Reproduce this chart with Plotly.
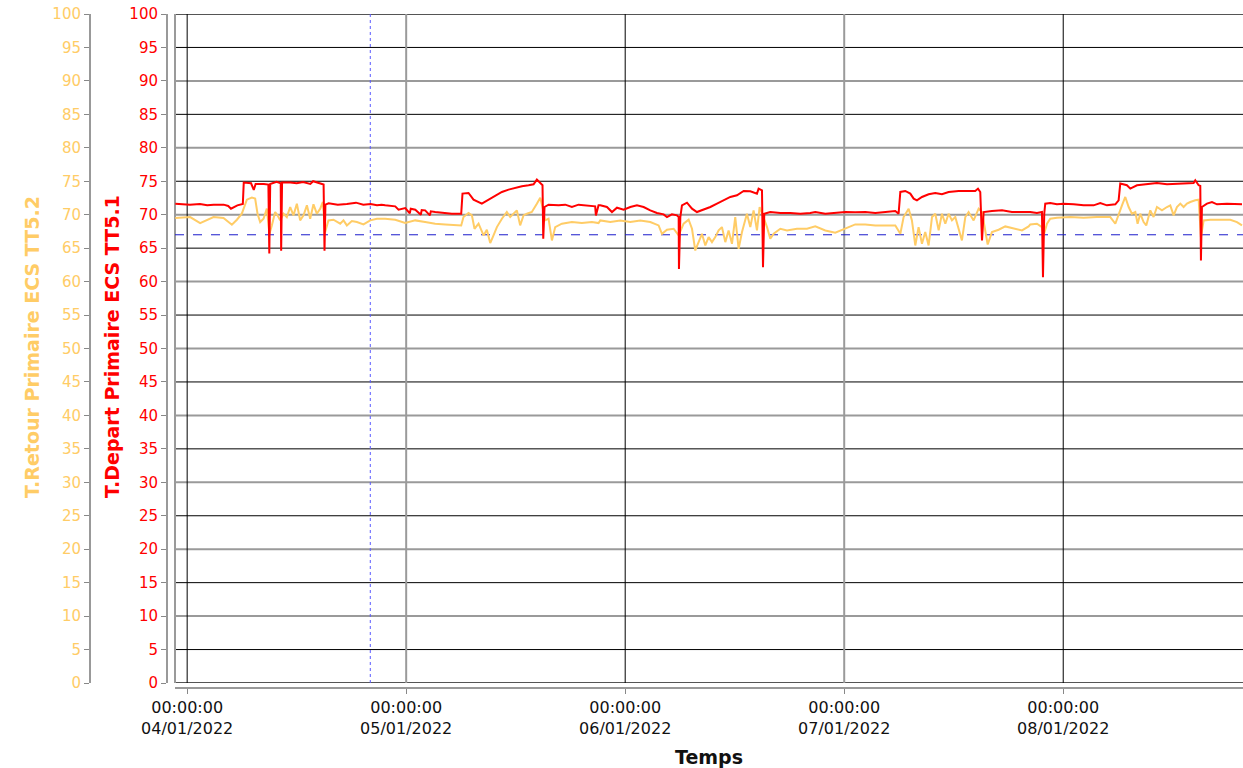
import plotly.graph_objects as go
import pandas as pd

# ---------------- data ----------------
START = "2022-01-04 00:00:00"          # hours below are offsets from this instant
X_RANGE = ["2022-01-03 22:40:00", "2022-01-08 19:42:00"]
X_TICKS = ["2022-01-04", "2022-01-05", "2022-01-06", "2022-01-07", "2022-01-08"]
X_TICKTEXT = ["00:00:00<br>04/01/2022", "00:00:00<br>05/01/2022", "00:00:00<br>06/01/2022",
              "00:00:00<br>07/01/2022", "00:00:00<br>08/01/2022"]
Y_TICKS = list(range(0, 101, 5))
THRESHOLD = 67
MARKER_TIME = "2022-01-04 20:04:00"
X_TITLE = "Temps"
RED_TITLE = "T.Depart Primaire ECS TT5.1"
ORANGE_TITLE = "T.Retour Primaire ECS TT5.2"

depart_hours = [
    -1.3, 0.3, 1.4, 2.2, 2.9, 4.0, 4.5, 4.8, 5.5, 6.0, 6.1, 6.2, 7.0, 7.3, 7.5, 8.4, 8.9, 9.0, 9.1, 9.8,
    10.25, 10.3, 10.4, 11.3, 12.0, 12.7, 13.5, 13.8, 14.5, 14.95, 15.05, 15.15, 15.5, 16.5, 17.5, 18.5,
    19.3, 20.1, 20.8, 21.3,
    21.7, 22.8, 23.16, 23.9, 24.4, 24.5, 25.0, 25.6, 25.7, 26.08, 26.6, 26.7, 27.18, 28.28, 29.0, 30.03,
    30.17, 30.83, 31.38, 32.29, 33.02, 33.75, 34.49, 35.22, 35.95, 36.68, 37.41, 37.96, 38.32, 38.69,
    38.94, 39.02, 39.16, 39.6, 40.7, 41.43, 42.16, 42.89, 43.62, 44.71, 44.79, 45.08,
    45.27, 46.0, 46.55, 47.1, 47.83, 48.56, 49.29, 50.02, 50.75, 51.48, 52.21, 52.58, 53.12, 53.67,
    53.86, 53.89, 54.04, 54.22, 54.77, 55.32, 55.86, 56.6, 57.33, 58.06, 58.79, 59.52, 60.25, 60.98,
    61.71, 62.44, 62.62, 62.99, 63.1, 63.24, 63.9, 65.0, 66.09, 67.19, 68.28,
    68.83, 69.93, 71.02, 72.12, 73.21, 74.31, 75.41, 76.5, 77.6, 77.96, 78.15, 78.69, 79.24, 79.61,
    79.97, 80.52, 81.25, 81.98, 82.71, 83.44, 84.54, 85.63, 86.36, 86.66, 86.91, 87.1, 87.28, 88.19,
    89.29, 90.38, 91.48,
    92.39, 93.12, 93.67, 93.78, 93.92, 94.03, 94.58, 95.31, 96.04, 97.14, 98.23, 99.33, 100.06, 100.79,
    101.71, 102.07, 102.25, 102.98, 103.35, 104.08, 104.99, 105.54, 106.27, 107.37, 108.46, 109.56,
    110.29, 110.47, 110.84, 111.02, 111.09, 111.2, 111.75, 112.3, 112.85, 113.94, 115.59,
]
depart_values = [
    71.65, 71.5, 71.6, 71.4, 71.5, 71.5, 71.3, 70.9, 71.4, 71.6, 71.6, 74.8, 74.7, 73.7, 74.6, 74.6, 74.5, 64.2, 74.6, 74.9,
    74.7, 64.6, 74.8, 74.8, 74.7, 74.9, 74.6, 75.0, 74.7, 74.5, 64.6, 71.5, 71.7, 71.5, 71.6, 71.8,
    71.5, 71.6, 71.4, 71.5,
    71.4, 71.25, 70.75, 71.0, 70.2, 70.9, 70.75, 70.0, 70.7, 70.65, 69.9, 70.5, 70.4, 70.25, 70.15, 70.15,
    73.15, 73.25, 72.25, 71.65, 72.25, 72.9, 73.4, 73.75, 74.05, 74.25, 74.4, 74.55, 75.25, 74.75,
    74.4, 66.4, 71.15, 71.5, 71.4, 71.5, 71.15, 71.5, 71.4, 71.25, 69.9, 71.4,
    71.4, 71.15, 70.4, 71.05, 70.75, 71.15, 71.4, 71.15, 70.65, 70.25, 70.05, 69.65, 70.05, 69.9,
    69.65, 61.9, 69.65, 71.4, 71.8, 70.9, 70.4, 70.75, 71.15, 71.65, 72.15, 72.65, 72.9, 73.55,
    73.5, 73.15, 73.9, 73.65, 62.15, 70.15, 70.4, 70.25, 70.25, 70.15, 70.25,
    70.4, 70.15, 70.25, 70.4, 70.35, 70.4, 70.25, 70.35, 70.55, 70.15, 73.4, 73.55, 73.15, 72.4,
    72.15, 72.65, 73.05, 73.25, 73.05, 73.4, 73.55, 73.55, 73.55, 73.9, 73.4, 66.15, 70.4, 70.55,
    70.65, 70.4, 70.4,
    70.4, 70.25, 70.4, 60.65, 70.15, 71.65, 71.75, 71.55, 71.65, 71.55, 71.4, 71.4, 71.75, 71.4,
    71.55, 72.15, 74.65, 74.4, 73.9, 74.4, 74.55, 74.65, 74.75, 74.55, 74.65, 74.65,
    74.75, 75.15, 74.4, 74.3, 63.15, 71.15, 71.65, 71.9, 71.55, 71.65, 71.55,
]

retour_hours = [
    -1.3, 0.33, 1.42, 2.16, 2.89, 3.98, 4.9, 5.45, 5.99, 6.54, 7.09, 7.45, 7.71, 8.0, 8.37, 8.73, 9.02,
    9.28, 9.64, 9.9, 10.19, 10.56, 10.92, 11.29, 11.65, 12.02, 12.38, 12.75, 13.12, 13.48, 13.84, 14.21,
    14.58, 14.87, 15.12, 15.48, 16.03, 16.77, 17.13, 17.5, 18.05, 18.6, 19.32, 20.06, 20.79,
    21.7, 22.8, 23.89, 24.99, 26.08, 27.18, 28.28, 29.37, 30.03, 30.28, 30.83, 31.2, 31.49, 31.93,
    32.48, 32.84, 33.21, 33.57, 33.94, 34.49, 35.03, 35.4, 35.76, 36.13, 36.49, 36.86, 37.23, 37.77,
    38.32, 38.69, 38.94, 39.23, 39.6, 39.97, 40.33, 41.06, 42.16, 43.25, 44.35, 45.08,
    45.27, 46.37, 47.46, 48.56, 49.65, 50.75, 51.66, 52.03, 52.58, 53.31, 53.86, 54.4, 54.95, 55.32,
    55.68, 56.05, 56.41, 56.78, 57.14, 57.51, 57.87, 58.24, 58.6, 58.97, 59.33, 59.7, 60.06, 60.43,
    60.8, 61.34, 61.71, 62.07, 62.44, 62.73, 63.17, 63.54, 63.9, 64.27, 65.0, 65.73, 66.82, 67.92,
    68.83, 69.93, 71.02, 72.12, 73.21, 74.31, 75.41, 76.5, 77.6, 78.15, 78.51, 79.06, 79.42, 79.79,
    80.15, 80.52, 80.88, 81.25, 81.62, 81.98, 82.35, 82.71, 83.08, 83.44, 83.81, 84.17, 84.54, 84.9,
    85.27, 85.63, 86.18, 86.73, 87.1, 87.46, 87.72, 88.19, 88.92, 89.65, 90.75, 91.48, 92.21,
    92.39, 93.12, 93.67, 93.85, 94.22, 94.58, 95.31, 96.77, 98.23, 99.7, 101.16, 101.71, 102.07,
    102.44, 102.8, 103.17, 103.53, 103.9, 104.15, 104.44, 104.81, 105.1, 105.54, 105.9, 106.27,
    106.82, 107.37, 107.73, 108.1, 108.46, 108.83, 109.19, 109.56, 109.92, 110.47, 110.84, 111.09,
    111.39, 112.12, 113.21, 114.31, 115.04, 115.59,
]
retour_values = [
    69.5, 69.65, 68.75, 69.25, 69.65, 69.5, 68.5, 69.25, 70.15, 72.25, 72.55, 72.4, 70.15, 68.9, 69.4, 70.9, 67.15,
    68.4, 70.4, 69.9, 69.15, 70.15, 69.65, 71.15, 69.9, 71.65, 69.15, 69.9, 71.4, 69.4, 71.55, 70.15,
    70.9, 71.9, 67.4, 69.15, 69.25, 68.65, 69.15, 68.4, 69.05, 68.9, 68.55, 69.15, 69.4,
    69.4, 69.25, 68.75, 69.15, 68.9, 68.65, 68.55, 68.4, 68.4, 69.65, 70.25, 69.9, 67.9, 68.65,
    66.9, 67.75, 65.75, 66.9, 68.15, 69.4, 70.4, 69.65, 70.15, 70.65, 68.4, 69.9, 70.15, 70.4,
    71.65, 72.55, 71.15, 69.15, 69.4, 66.15, 68.15, 68.65, 68.9, 68.75, 68.9, 68.75,
    69.15, 68.9, 69.15, 68.9, 69.15, 68.9, 68.4, 67.15, 67.75, 67.9, 66.9, 68.65, 69.25, 67.9,
    64.65, 65.9, 67.15, 65.4, 66.65, 65.9, 66.65, 67.65, 68.15, 65.9, 67.65, 65.65, 69.65, 64.9,
    67.4, 70.15, 68.15, 70.65, 67.65, 71.15, 69.65, 68.15, 66.4, 67.15, 67.9, 67.65, 67.9, 67.9,
    68.25, 67.65, 67.3, 67.9, 68.55, 68.55, 68.4, 68.4, 68.4, 67.15, 69.65, 70.9, 69.15, 65.4,
    68.15, 65.65, 67.4, 65.4, 69.65, 70.15, 67.65, 70.15, 68.65, 70.15, 69.15, 69.65, 67.65, 66.15,
    69.65, 70.4, 69.15, 70.9, 70.4, 67.4, 65.55, 67.4, 67.75, 68.25, 67.9, 67.65, 68.25,
    68.55, 68.65, 68.15, 66.9, 68.65, 69.4, 69.55, 69.65, 69.55, 69.65, 69.65, 68.65, 70.15,
    71.4, 72.65, 71.15, 70.15, 70.4, 68.65, 70.15, 68.9, 68.4, 70.65, 69.65, 71.15,
    70.65, 71.15, 71.4, 69.9, 71.15, 71.65, 71.15, 71.65, 71.9, 72.15, 72.25, 66.65,
    69.15, 69.25, 69.25, 69.25, 68.9, 68.4,
]

assert len(depart_hours) == len(depart_values), (len(depart_hours), len(depart_values))
assert len(retour_hours) == len(retour_values), (len(retour_hours), len(retour_values))

# ---------------- styling ----------------
RED = "#FF0000"
ORANGE = "#FFCC66"
FONT = "DejaVu Sans"
W, H = 1243, 768
# layout positions in window pixels (page margin removed below)
PLOT_TOP, PLOT_BOTTOM = 14, 683
XAXIS_Y = 688
PLOT_LEFT = 175
RED_AXIS_X = 167
ORANGE_AXIS_X = 90
RED_TITLE_X = 112
ORANGE_TITLE_X = 32
YTITLE_CY = 347
XTITLE_CY = 757

MT = PLOT_TOP
MB = H - XAXIS_Y
paper_h = H - MT - MB


def px_to_paper_y(py):
    return (H - MB - py) / paper_h


t0 = pd.Timestamp(START)
depart_t = t0 + pd.to_timedelta(depart_hours, unit="h")
retour_t = t0 + pd.to_timedelta(retour_hours, unit="h")

fig = go.Figure()
fig.add_trace(go.Scatter(x=retour_t, y=retour_values, yaxis="y", mode="lines",
                         line=dict(color=ORANGE, width=2), name=ORANGE_TITLE, showlegend=False))
fig.add_trace(go.Scatter(x=depart_t, y=depart_values, yaxis="y2", mode="lines",
                         line=dict(color=RED, width=2), name=RED_TITLE, showlegend=False))

shapes = []
for v in Y_TICKS:
    if v in (0, 100):
        col, wid = "#555555", 2
    elif v % 10 == 0:
        col, wid = "#9a9a9a", 2
    else:
        col, wid = "#000000", 1
    shapes.append(dict(type="line", xref="x domain", yref="y", x0=0, x1=1, y0=v, y1=v,
                       line=dict(color=col, width=wid), layer="below"))
for i, t in enumerate(X_TICKS):
    col, wid = ("#000000", 1) if i % 2 == 0 else ("#9a9a9a", 2)
    shapes.append(dict(type="line", xref="x", yref="y domain", x0=t, x1=t, y0=0, y1=1,
                       line=dict(color=col, width=wid), layer="below"))
shapes.append(dict(type="line", xref="x domain", yref="y domain", x0=0, x1=0, y0=0, y1=1,
                   line=dict(color="#9a9a9a", width=2), layer="below"))
shapes.append(dict(type="line", xref="x domain", yref="y", x0=0, x1=1, y0=THRESHOLD, y1=THRESHOLD,
                   line=dict(color="#1a1acc", width=1, dash="dash"), layer="below"))
shapes.append(dict(type="line", xref="x", yref="y domain", x0=MARKER_TIME, x1=MARKER_TIME, y0=0, y1=1,
                   line=dict(color="#5a5aff", width=1, dash="dot"), layer="below"))

common_y = dict(range=[0, 100], tickvals=Y_TICKS, ticks="outside", ticklen=5, tickcolor="#888888",
                showline=True, linecolor="#999999", linewidth=2, showgrid=False, zeroline=False,
                anchor="free", side="left", fixedrange=True, automargin=False,
                ticklabeloverflow="allow")

annotations = [
    dict(text=f"<b>{RED_TITLE}</b>", xref="paper", yref="paper", x=RED_TITLE_X / W,
         y=px_to_paper_y(YTITLE_CY), textangle=-90, showarrow=False,
         font=dict(size=19, color=RED), xanchor="center", yanchor="middle"),
    dict(text=f"<b>{ORANGE_TITLE}</b>", xref="paper", yref="paper", x=ORANGE_TITLE_X / W,
         y=px_to_paper_y(YTITLE_CY), textangle=-90, showarrow=False,
         font=dict(size=19, color=ORANGE), xanchor="center", yanchor="middle"),
    dict(text=f"<b>{X_TITLE}</b>", xref="paper", yref="paper", x=(PLOT_LEFT + W) / 2 / W,
         y=px_to_paper_y(XTITLE_CY), showarrow=False,
         font=dict(size=19, color="#111111"), xanchor="center", yanchor="middle"),
]

fig.update_layout(
    width=W, height=H,
    margin=dict(l=0, r=0, t=MT, b=MB, autoexpand=False),
    paper_bgcolor="white", plot_bgcolor="white",
    font=dict(family=FONT, size=15, color="#111111"),
    shapes=shapes,
    annotations=annotations,
    hovermode=False,
    xaxis=dict(domain=[PLOT_LEFT / W, 1], range=X_RANGE, type="date",
               tickvals=X_TICKS, ticktext=X_TICKTEXT, ticks="outside", ticklen=5,
               tickcolor="#888888", showline=True, linecolor="#999999", linewidth=2,
               showgrid=False, zeroline=False, anchor="free", position=0, automargin=False,
               ticklabeloverflow="allow", tickfont=dict(size=16, color="#111111")),
    yaxis=dict(**common_y, domain=[px_to_paper_y(PLOT_BOTTOM), 1], position=ORANGE_AXIS_X / W,
               tickfont=dict(size=15, color=ORANGE)),
    yaxis2=dict(**common_y, overlaying="y", position=RED_AXIS_X / W,
                tickfont=dict(size=15, color=RED)),
)

# remove the default 8px page margin so the figure fills the window exactly
fig.write_html("out.html",
               config={"displayModeBar": False, "staticPlot": True},
               post_script="document.body.style.margin='0';document.body.style.overflow='hidden';")
